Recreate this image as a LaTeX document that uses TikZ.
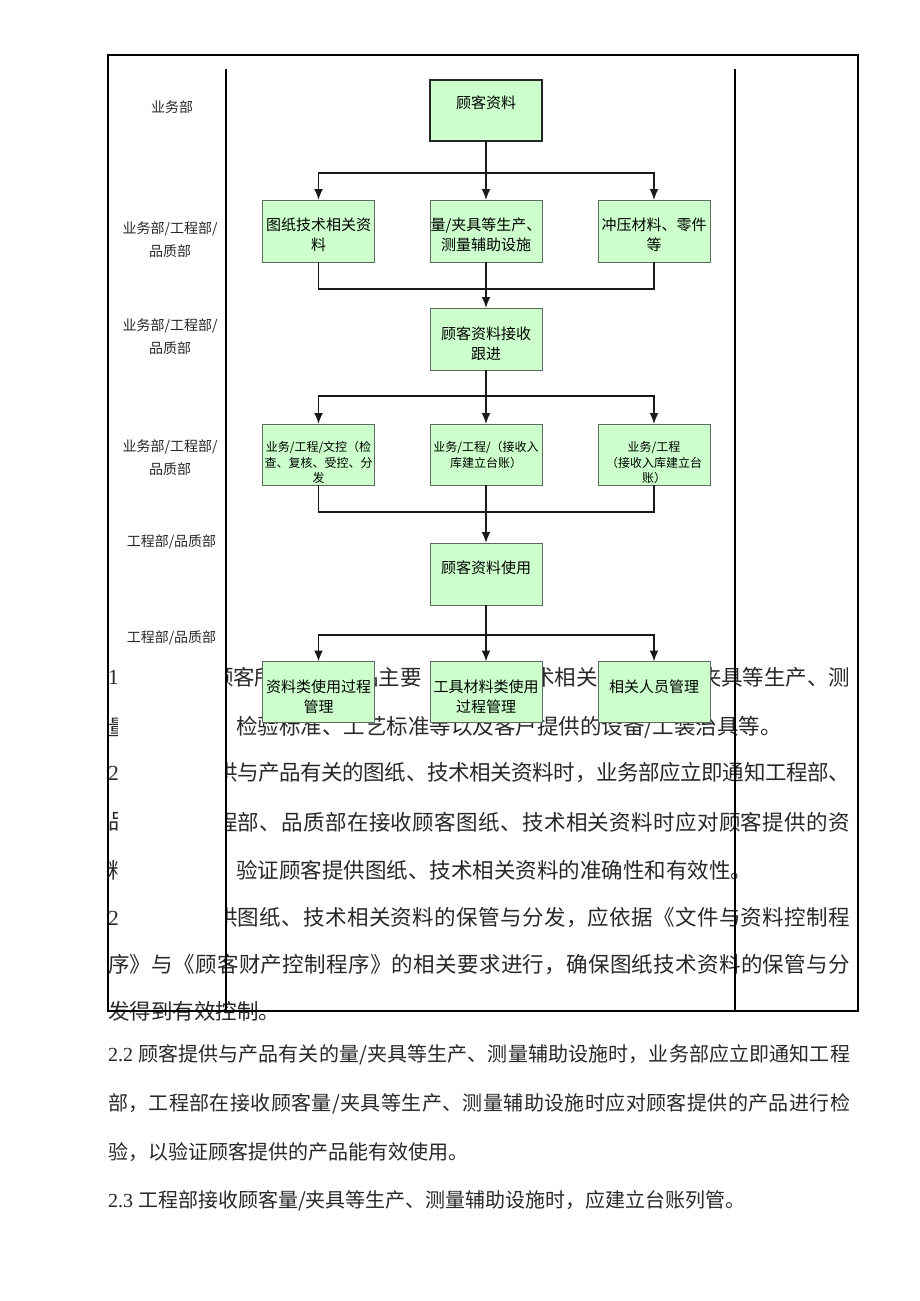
\documentclass[tikz,border=0pt]{standalone}
\usepackage{fontspec}
\setmainfont{Liberation Serif}
\newfontfamily\cjk{Noto Sans CJK SC}
\usetikzlibrary{arrows.meta}
\definecolor{boxfill}{RGB}{204,255,204}
\definecolor{boxline}{RGB}{95,105,95}
\definecolor{txt}{RGB}{40,40,40}
\def\spreadA#1{#1\spreadB}
\def\spreadB#1{\ifx\relax#1\else\hskip0pt plus 1fil minus 2pt\relax#1\expandafter\spreadB\fi}
\newcommand{\bt}[5]{\parbox[c][#1pt][t]{112pt}{\centering\fontsize{#2}{#3}\selectfont\cjk\vspace*{#4pt}#5}}
\newcommand{\fr}[6][frag]{\node[#1, anchor=west] (#2) at (#3,#5) {\hbox to \dimexpr #4pt-#3pt\relax{\cjk\spreadA #6\relax}};}
\begin{document}
\begin{tikzpicture}[x=1pt,y=-1pt,
  box/.style={draw=boxline, fill=boxfill, line width=1pt, inner sep=0pt, outer sep=0pt},
  mainbox/.style={box, draw=black!85, line width=1.4pt},
  con/.style={draw=black!90, line width=1.8pt},
  arr/.style={con, -{Latex[length=11pt,width=9pt]}},
  frag/.style={inner sep=0pt, outer sep=0pt, text=txt, font=\fontsize{21.5}{24}\selectfont},
  lowtxt/.style={frag, font=\fontsize{20}{24}\selectfont},
  lbl/.style={inner sep=0pt, text=txt, align=center, font=\fontsize{14}{23}\selectfont\cjk},
  outerframe/.style={draw=black, line width=1.5pt},
  lane/.style={draw=black, line width=1.2pt}]
\fill[white] (0,0) rectangle (920,1301);
\useasboundingbox (0,0) rectangle (920,1301);

% ---------- body text inside the frame ----------
\node[frag, anchor=west] (t1l) at (108,677) {1};
\node[frag, anchor=west] (t3l) at (108,773) {2};
\node[frag, anchor=west] (t6l) at (108,918) {2};
\begin{scope}
  \clip (100,640) rectangle (117,940);
  \node[frag, anchor=west] (t2l) at (108,727) {\cjk 量};
  \node[frag, anchor=west] (t4l) at (108,822) {\cjk 品};
  \node[frag, anchor=west] (t5l) at (108,870) {\cjk 料};
\end{scope}
\begin{scope}
  \clip (226.5,640) rectangle (870,940);
  \fr{t1a}{212}{275.5}{677}{顾客所}
  \fr{t1b}{357}{421.5}{677}{品主要}
  \fr{t1c}{533}{597.5}{677}{术相关}
  \fr{t1d}{700}{850}{677}{夹具等生产、测}
  \node[frag, anchor=west] (t2r) at (236,727) {\cjk 检验标准、工艺标准等以及客户提供的设备/工装治具等。};
  \fr{t3r}{216}{850}{773}{供与产品有关的图纸、技术相关资料时，业务部应立即通知工程部、}
  \fr{t4r}{216}{850}{822}{程部、品质部在接收顾客图纸、技术相关资料时应对顾客提供的资}
  \node[frag, anchor=west] (t5r) at (236,870) {\cjk 验证顾客提供图纸、技术相关资料的准确性和有效性。};
  \fr{t6r}{216}{850}{918}{供图纸、技术相关资料的保管与分发，应依据《文件与资料控制程}
\end{scope}
\fr{t7}{108}{850}{965}{序》与《顾客财产控制程序》的相关要求进行，确保图纸技术资料的保管与分}
\node[frag, anchor=west] (t8) at (108,1011) {\cjk 发得到有效控制。};

% ---------- body text below the frame ----------
\node[lowtxt, anchor=west] (t9) at (108,1055) {\hbox to 742pt{2.2\ \cjk\spreadA 顾客提供与产品有关的量/夹具等生产、测量辅助设施时，业务部应立即通知工程\relax}};
\fr[lowtxt]{t10}{108}{850}{1104}{部，工程部在接收顾客量/夹具等生产、测量辅助设施时应对顾客提供的产品进行检}
\node[lowtxt, anchor=west] (t11) at (108,1152) {\cjk 验，以验证顾客提供的产品能有效使用。};
\node[lowtxt, anchor=west] (t12) at (108,1201) {2.3 \cjk 工程部接收顾客量/夹具等生产、测量辅助设施时，应建立台账列管。};

% ---------- lane labels ----------
\node[lbl] (lab1) at (172,107) {业务部};
\node[lbl] (lab2) at (170,240) {业务部/工程部/\\品质部};
\node[lbl] (lab3) at (170,336.5) {业务部/工程部/\\品质部};
\node[lbl] (lab4) at (170,458) {业务部/工程部/\\品质部};
\node[lbl] (lab5) at (171.5,542) {工程部/品质部};
\node[lbl] (lab6) at (171.5,638) {工程部/品质部};

% ---------- frame and lanes ----------
\coordinate (fTL) at (108,55);
\coordinate (fBR) at (858,1011);
\draw[outerframe] (fTL) rectangle (fBR);
\coordinate (laL1) at (226,69);
\coordinate (laL2) at (226,1011);
\coordinate (laR1) at (735,69);
\coordinate (laR2) at (735,1011);
\draw[lane] (laL1) -- (laL2);
\draw[lane] (laR1) -- (laR2);

% ---------- boxes ----------
\node[mainbox] (n0) at (486,110.5) {\bt{61}{15}{20}{16}{顾客资料}};
\node[box] (n1a) at (318.5,231) {\bt{62}{15}{19.5}{18}{图纸技术相关资\\料}};
\node[box] (n1b) at (486,231) {\bt{62}{15}{19.5}{18}{量/夹具等生产、\\测量辅助设施}};
\node[box] (n1c) at (654,231) {\bt{62}{15}{19.5}{18}{冲压材料、零件\\等}};
\node[box] (n2) at (486,339) {\bt{62}{15}{20}{19}{顾客资料接收\\跟进}};
\node[box] (n3a) at (318.5,454.5) {\bt{61}{12}{15.5}{17.5}{业务/工程/文控（检\\查、复核、受控、分\\发}};
\node[box] (n3b) at (486,454.5) {\bt{61}{12}{15.5}{17.5}{业务/工程/（接收入\\库建立台账）}};
\node[box] (n3c) at (654,454.5) {\bt{61}{12}{15.5}{17.5}{业务/工程\\（接收入库建立台\\账）}};
\node[box] (n4) at (486,574) {\bt{62}{15}{20}{18}{顾客资料使用}};
\node[box] (n5a) at (318.5,692) {\bt{61}{15}{20}{18}{资料类使用过程\\管理}};
\node[box] (n5b) at (486,692) {\bt{61}{15}{20}{18}{工具材料类使用\\过程管理}};
\node[box] (n5c) at (654,692) {\bt{61}{15}{20}{18}{相关人员管理}};

% ---------- connectors ----------
\coordinate (j0) at (486,173);
\draw[arr] (n0.south) -- (n1b.north);
\draw[arr] (j0) -| (n1a.north);
\draw[arr] (j0) -| (n1c.north);
\coordinate (j1) at (486,289);
\draw[con] (n1a.south) |- (j1) -| (n1c.south);
\draw[arr] (n1b.south) -- (n2.north);
\coordinate (j2) at (486,396);
\draw[arr] (n2.south) -- (n3b.north);
\draw[arr] (j2) -| (n3a.north);
\draw[arr] (j2) -| (n3c.north);
\coordinate (j3) at (486,512);
\draw[con] (n3a.south) |- (j3) -| (n3c.south);
\draw[arr] (n3b.south) -- (n4.north);
\coordinate (j4) at (486,635);
\draw[arr] (n4.south) -- (n5b.north);
\draw[arr] (j4) -| (n5a.north);
\draw[arr] (j4) -| (n5c.north);
\end{tikzpicture}
\end{document}
